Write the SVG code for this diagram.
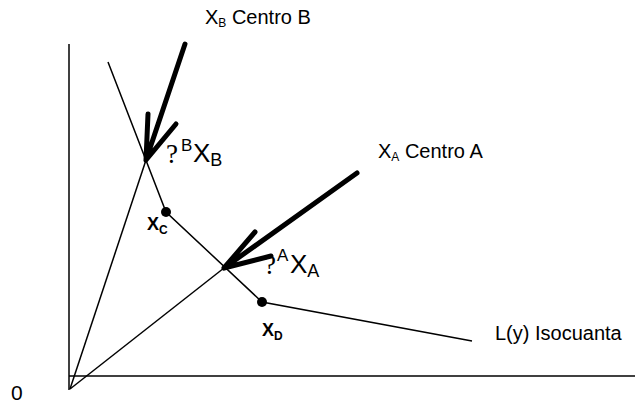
<svg xmlns="http://www.w3.org/2000/svg" width="635" height="403" viewBox="0 0 635 403">
<style>
.ln{stroke:#000;stroke-width:1.5;fill:none}
.ar{stroke:#000;stroke-width:5;fill:none;stroke-linecap:round;stroke-linejoin:round}
.t{font-family:"Liberation Sans",Arial,sans-serif;fill:#000}
.q{font-family:"Liberation Serif","Times New Roman",serif;fill:#000}
.b{font-weight:bold}
</style>
<rect width="635" height="403" fill="#fff"/>
<g id="axes">
<line class="ln" x1="69" y1="44" x2="69" y2="390"/>
<line class="ln" x1="69" y1="376" x2="635" y2="376"/>
<text class="t" x="11" y="400" font-size="21">0</text>
</g>
<g id="connectors">
<line class="ln" x1="70" y1="389" x2="146" y2="160"/>
<line class="ln" x1="70" y1="389" x2="224" y2="268"/>
<polyline class="ln" points="108,62 166,212 262,302 472,341"/>
<path class="ar" d="M185,44 L146,160 M148,114 L146,160 L176,124"/>
<path class="ar" d="M357,173 L224,268 M255,232 L224,268 L271,256"/>
</g>
<g id="isoquant-label"><text class="t" x="495" y="340" font-size="20">L(y) Isocuanta</text></g>
<g id="centroB"><text class="t" x="205" y="24" font-size="20">X<tspan font-size="12" dy="3">B</tspan><tspan dy="-3"> Centro B</tspan></text></g>
<g id="centroA"><text class="t" x="378" y="158" font-size="20">X<tspan font-size="12" dy="3">A</tspan><tspan dy="-3"> Centro A</tspan></text></g>
<g id="pointB">
<text class="q" x="166" y="163" font-size="27">?</text>
<text class="t" x="181" y="151" font-size="17">B</text>
<text class="t" x="193" y="162" font-size="26">X<tspan font-size="18" dy="4">B</tspan></text>
</g>
<g id="pointA">
<text class="q" x="264" y="274" font-size="27">?</text>
<text class="t" x="277" y="261" font-size="17">A</text>
<text class="t" x="290" y="273" font-size="26">X<tspan font-size="18" dy="4">A</tspan></text>
</g>
<g id="XC">
<circle cx="166" cy="212" r="5"/>
<text class="t b" x="147" y="230" font-size="18">X<tspan font-size="12" dy="4">C</tspan></text>
</g>
<g id="XD">
<circle cx="262" cy="302" r="5"/>
<text class="t b" x="262" y="336" font-size="18">X<tspan font-size="12" dy="4">D</tspan></text>
</g>
</svg>
